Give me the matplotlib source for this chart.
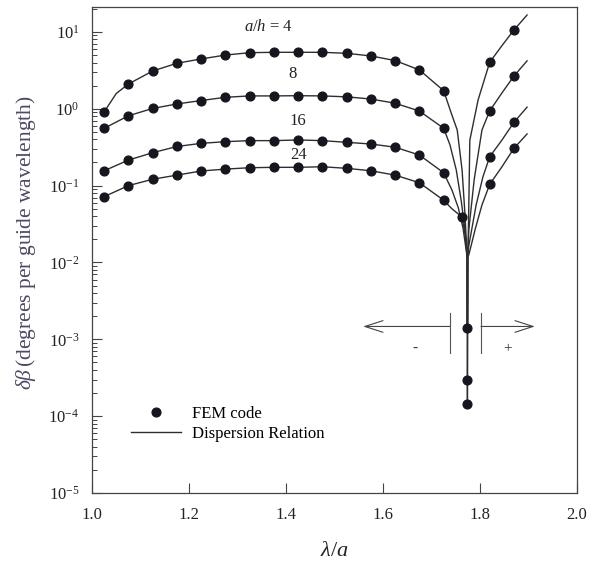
import numpy as np
import matplotlib
matplotlib.use('Agg')
import matplotlib.pyplot as plt
from matplotlib.lines import Line2D
from matplotlib.ticker import FixedLocator, MultipleLocator, NullFormatter

plt.rcParams['font.family'] = 'Liberation Serif'
plt.rcParams['mathtext.fontset'] = 'custom'
plt.rcParams['mathtext.rm'] = 'Liberation Serif'
plt.rcParams['mathtext.it'] = 'Liberation Serif:italic'
plt.rcParams['axes.unicode_minus'] = False

# FEM points left of the resonance
lam_fem = [1.025, 1.075, 1.125, 1.175, 1.225, 1.275, 1.325, 1.375,
           1.425, 1.475, 1.525, 1.575, 1.625, 1.675, 1.725]
fem_4 = [0.91, 2.10, 3.10, 3.91, 4.45, 5.0, 5.37, 5.43,
         5.43, 5.43, 5.27, 4.87, 4.24, 3.20, 1.72]
fem_8 = [0.557, 0.81, 1.01, 1.155, 1.28, 1.41, 1.47, 1.47,
         1.48, 1.47, 1.43, 1.34, 1.18, 0.935, 0.557]
fem_16 = [0.156, 0.215, 0.268, 0.323, 0.355, 0.373, 0.385, 0.385,
          0.393, 0.385, 0.366, 0.348, 0.316, 0.25, 0.147]
fem_24 = [0.0718, 0.100, 0.121, 0.137, 0.155, 0.164, 0.171, 0.173,
          0.173, 0.176, 0.168, 0.156, 0.137, 0.109, 0.0646]
# right of the resonance
lam_fem_r = [1.82, 1.87]
fem_4_r = [4.03, 10.6]
fem_8_r = [0.94, 2.67]
fem_16_r = [0.238, 0.667]
fem_24_r = [0.104, 0.306]
# points close to the resonance
lam_fem_c = [1.763, 1.774, 1.774, 1.774]
fem_c = [0.039, 1.4e-3, 2.95e-4, 1.44e-4]

# dispersion relation: extra points
extra_x_4 = [1.05, 1.742, 1.753, 1.763, 1.769, 1.7735, 1.7738]
extra_4 = [1.58, 0.83, 0.53, 0.16, 0.042, 0.0117, 1.4e-4]
extra_x_8 = [1.738, 1.751, 1.761, 1.769, 1.7735, 1.7738]
extra_8 = [0.34, 0.16, 0.065, 0.027, 0.0117, 1.3e-3]
extra_x_16 = [1.742, 1.755, 1.765, 1.7735, 1.7738]
extra_16 = [0.088, 0.052, 0.028, 0.0117, 1.3e-3]
extra_x_24 = [1.742, 1.763, 1.771, 1.7735, 1.7738]
extra_24 = [0.05, 0.039, 0.0197, 0.0117, 1.3e-3]

rb_x_4 = [1.7742, 1.775, 1.777, 1.779, 1.796, 1.82, 1.845, 1.87, 1.897]
rb_4 = [1.4e-4, 0.0117, 0.06, 0.39, 1.3, 4.03, 6.6, 10.6, 16.6]
rb_x_8 = [1.7742, 1.7745, 1.777, 1.788, 1.804, 1.82, 1.845, 1.87, 1.897]
rb_8 = [1.3e-3, 0.0117, 0.027, 0.12, 0.53, 0.94, 1.6, 2.67, 4.2]
rb_x_16 = [1.7742, 1.7745, 1.777, 1.792, 1.806, 1.82, 1.845, 1.87, 1.897]
rb_16 = [1.3e-3, 0.0117, 0.0167, 0.056, 0.13, 0.238, 0.39, 0.667, 1.05]
rb_x_24 = [1.7742, 1.7745, 1.777, 1.79, 1.804, 1.82, 1.845, 1.87, 1.897]
rb_24 = [1.3e-3, 0.0117, 0.0126, 0.027, 0.056, 0.104, 0.175, 0.306, 0.47]

curve_labels = [r'$a/h$ = 4', '8', '16', '24']
label_pos = [(1.363, 11.7), (1.414, 2.85), (1.425, 0.70), (1.425, 0.25)]

y_decades = [1e-5, 1e-4, 1e-3, 1e-2, 1e-1, 1e0, 1e1]
x_ticks = [1.0, 1.2, 1.4, 1.6, 1.8, 2.0]

line_col = '#2e2e2e'
dot_col = '#16161f'

fig = plt.figure(figsize=(5.99, 5.65), dpi=100)
ax = fig.add_axes([0.1536, 0.1274, 0.8097, 0.8602])

left_sets = [(fem_4, extra_x_4, extra_4), (fem_8, extra_x_8, extra_8),
             (fem_16, extra_x_16, extra_16), (fem_24, extra_x_24, extra_24)]
for ys, ex, ey in left_sets:
    x = np.concatenate([lam_fem, ex])
    y = np.concatenate([ys, ey])
    o = np.argsort(x)
    ax.plot(x[o], y[o], color=line_col, lw=1.0, zorder=2)
for rx, ry in [(rb_x_4, rb_4), (rb_x_8, rb_8), (rb_x_16, rb_16), (rb_x_24, rb_24)]:
    ax.plot(rx, ry, color=line_col, lw=1.0, zorder=2)

for ys in [fem_4, fem_8, fem_16, fem_24]:
    ax.plot(lam_fem, ys, 'o', color=dot_col, ms=6.3, zorder=3)
for ys in [fem_4_r, fem_8_r, fem_16_r, fem_24_r]:
    ax.plot(lam_fem_r, ys, 'o', color=dot_col, ms=6.3, zorder=3)
ax.plot(lam_fem_c, fem_c, 'o', color=dot_col, ms=6.3, zorder=3)

for txt, (x, y) in zip(curve_labels, label_pos):
    ax.text(x, y, txt, fontsize=12, ha='center', va='center', color='#222222')

# +/- arrows around the resonance
arr = dict(arrowstyle='->,head_length=1.3,head_width=0.42', color='#444444', lw=0.8,
           shrinkA=0, shrinkB=0)
ax.annotate('', xy=(1.559, 1.47e-3), xytext=(1.738, 1.47e-3), arrowprops=arr)
ax.annotate('', xy=(1.913, 1.47e-3), xytext=(1.802, 1.47e-3), arrowprops=arr)
ax.plot([1.738, 1.738], [2.19e-3, 6.6e-4], color='#555555', lw=0.8)
ax.plot([1.802, 1.802], [2.19e-3, 6.6e-4], color='#555555', lw=0.8)
ax.text(1.666, 7.7e-4, '-', fontsize=11, ha='center', va='center', color='#333333')
ax.text(1.856, 7.5e-4, '+', fontsize=11, ha='center', va='center', color='#333333')

ax.set_yscale('log')
ax.set_xlim(1.0, 2.0)
ax.set_ylim(1e-5, 21.1)
ax.xaxis.set_major_locator(FixedLocator(x_ticks))
ax.xaxis.set_major_formatter(plt.FuncFormatter(lambda v, p: f'{v:.1f}'))
ax.yaxis.set_major_locator(FixedLocator(y_decades))
minors = [m * d for d in y_decades for m in range(2, 10) if m * d < 21.1]
ax.yaxis.set_minor_locator(FixedLocator(minors))
ax.yaxis.set_minor_formatter(NullFormatter())
ax.tick_params(which='major', direction='in', length=7, width=0.8, color='#444444',
               labelsize=12, labelcolor='#222222')
ax.tick_params(axis='y', which='major', pad=9)
ax.tick_params(axis='x', which='major', pad=10)
ax.tick_params(which='minor', direction='in', length=3.5, width=0.7, color='#444444')
for s in ax.spines.values():
    s.set_color('#444444')
    s.set_linewidth(0.9)

ax.set_xlabel(r'$\lambda/a$', fontsize=16, color='#222222', labelpad=14)
ax.set_ylabel(r'$\delta\beta\,$(degrees per guide wavelength)', fontsize=15.5,
              color='#4d4866')
ax.yaxis.set_label_coords(-0.112, 0.515)

handles = [Line2D([], [], ls='none', marker='o', color=dot_col, ms=6.3),
           Line2D([], [], color=line_col, lw=1.0)]
ax.legend(handles, ['FEM code', 'Dispersion Relation'], loc='upper left',
          bbox_to_anchor=(0.08, 0.18), frameon=False, fontsize=12,
          handlelength=3.0, handletextpad=0.7, labelspacing=0.25,
          borderpad=0, borderaxespad=0)

fig.savefig('out.png', dpi=100)
